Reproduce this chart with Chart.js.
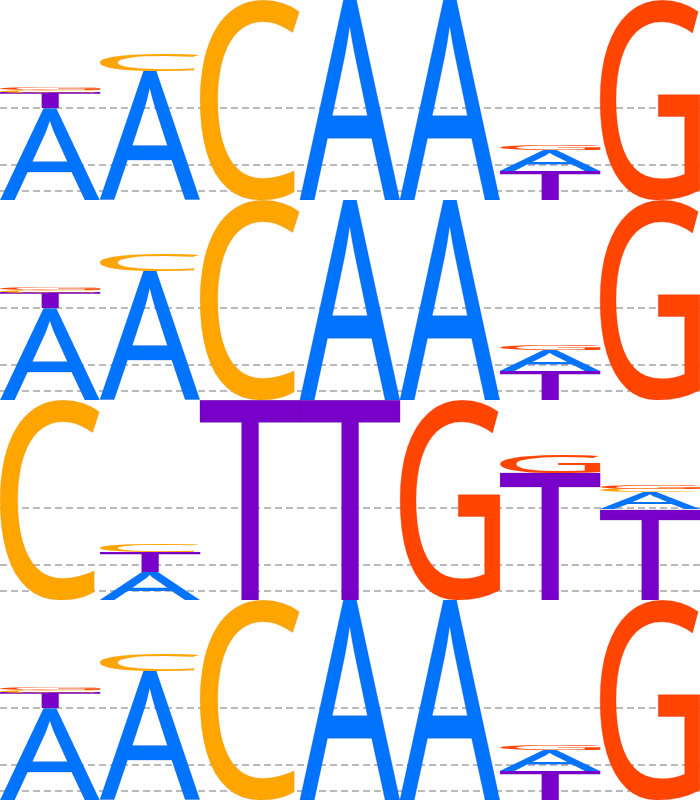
<!DOCTYPE html>
<html>
<head>
<meta charset="utf-8">
<script src="https://cdn.jsdelivr.net/npm/chart.js@4.4.1/dist/chart.umd.min.js"></script>
<style>
  html, body { margin: 0; padding: 0; background: #ffffff; }
  .row { width: 700px; height: 200px; position: relative; }
  canvas { display: block; }
</style>
</head>
<body>
<div class="row"><canvas id="c1" width="700" height="200"></canvas></div>
<div class="row"><canvas id="c2" width="700" height="200"></canvas></div>
<div class="row"><canvas id="c3" width="700" height="200"></canvas></div>
<div class="row"><canvas id="c4" width="700" height="200"></canvas></div>
<script>
// ---- data (information, bits) ----
const POSITIONS = ['1', '2', '3', '4', '5', '6', '7'];
const LETTERS = ['A', 'C', 'G', 'T'];
const LETTER_COLORS = ['#0074ff', '#ffa500', '#ff4500', '#7800c8'];
const LETTER_EDGES = ['#0050c0', '#e08a00', '#e02a00', '#55008f'];
const GRID_VALUES = [0.09, 0.353, 0.916];
const Y_MAX = 2;

const ROW1_A = [0.92, 1.283, 0, 2.0, 2.0, 0.21, 0];
const ROW1_C = [0.032, 0.18, 2.0, 0, 0, 0, 0];
const ROW1_G = [0.031, 0, 0, 0, 0, 0.055, 2.0];
const ROW1_T = [0.15, 0, 0, 0, 0, 0.29, 0];

const ROW2_A = [0.92, 1.283, 0, 2.0, 2.0, 0.21, 0];
const ROW2_C = [0.032, 0.18, 2.0, 0, 0, 0, 0];
const ROW2_G = [0.031, 0, 0, 0, 0, 0.055, 2.0];
const ROW2_T = [0.15, 0, 0, 0, 0, 0.29, 0];

const ROW3_A = [0, 0.283, 0, 0, 0, 0, 0.173];
const ROW3_C = [2.0, 0.083, 0, 0, 0, 0, 0.034];
const ROW3_G = [0, 0, 0, 0, 2.0, 0.193, 0.033];
const ROW3_T = [0, 0.20, 2.0, 2.0, 0, 1.27, 0.907];

const ROW4_A = [0.92, 1.283, 0, 2.0, 2.0, 0.21, 0];
const ROW4_C = [0.032, 0.18, 2.0, 0, 0, 0, 0];
const ROW4_G = [0.031, 0, 0, 0, 0, 0.055, 2.0];
const ROW4_T = [0.15, 0, 0, 0, 0, 0.29, 0];

const ROWS = [
  [ROW1_A, ROW1_C, ROW1_G, ROW1_T],
  [ROW2_A, ROW2_C, ROW2_G, ROW2_T],
  [ROW3_A, ROW3_C, ROW3_G, ROW3_T],
  [ROW4_A, ROW4_C, ROW4_G, ROW4_T]
];

// ---- glyph drawing ----
const FONT_PX = 200;
const FONT = FONT_PX + 'px "Noto Sans"';
function drawGlyph(ctx, ch, color, edge, x0, x1, yTop, yBot) {
  const w = x1 - x0, h = yBot - yTop;
  if (w <= 0 || h <= 0.2) return;
  ctx.save();
  ctx.font = FONT;
  ctx.textAlign = 'left';
  ctx.textBaseline = 'alphabetic';
  const m = ctx.measureText(ch);
  const L = m.actualBoundingBoxLeft, R = m.actualBoundingBoxRight;
  const A = m.actualBoundingBoxAscent, D = m.actualBoundingBoxDescent;
  const sx = w / (L + R), sy = h / (A + D);
  ctx.translate(x0, yTop);
  ctx.scale(sx, sy);
  ctx.fillStyle = color;
  ctx.fillText(ch, L, A);
  ctx.lineWidth = 0.5 / sx;
  ctx.strokeStyle = edge;
  ctx.globalAlpha = 0.5;
  ctx.strokeText(ch, L, A);
  ctx.restore();
}

const logoPlugin = {
  id: 'logoLetters',
  afterDatasetsDraw(chart) {
    const ctx = chart.ctx;
    const xs = chart.scales.x, ys = chart.scales.y;
    const ds = chart.data.datasets;
    const n = chart.data.labels.length;
    const half = (xs.getPixelForValue(1) - xs.getPixelForValue(0)) / 2;
    for (let i = 0; i < n; i++) {
      const items = ds.map((d, k) => ({ k, v: d.data[i] || 0 }))
        .filter(o => o.v > 0)
        .sort((a, b) => b.v - a.v);
      let base = 0;
      const cx = xs.getPixelForValue(i);
      for (const it of items) {
        const yBot = ys.getPixelForValue(base);
        const yTop = ys.getPixelForValue(base + it.v);
        drawGlyph(ctx, LETTERS[it.k], LETTER_COLORS[it.k], LETTER_EDGES[it.k],
          cx - half, cx + half, yTop, yBot);
        base += it.v;
      }
    }
  }
};

ROWS.forEach((row, r) => {
  new Chart(document.getElementById('c' + (r + 1)), {
    type: 'bar',
    data: {
      labels: POSITIONS,
      datasets: LETTERS.map((L, k) => ({
        label: L,
        data: row[k],
        backgroundColor: 'rgba(0,0,0,0)',
        borderWidth: 0,
        stack: 's'
      }))
    },
    options: {
      responsive: false,
      animation: false,
      devicePixelRatio: 1,
      layout: { padding: 0 },
      plugins: { legend: { display: false }, tooltip: { enabled: false } },
      scales: {
        x: {
          display: false,
          stacked: true,
          offset: true
        },
        y: {
          display: true,
          stacked: false,
          min: 0,
          max: Y_MAX,
          afterBuildTicks: (s) => { s.ticks = GRID_VALUES.map(v => ({ value: v })); },
          afterFit: (s) => { s.width = 0; },
          ticks: { display: false, padding: 0 },
          border: { display: false, dash: [7, 4] },
          grid: { color: '#bababa', lineWidth: 2, drawTicks: false }
        }
      }
    },
    plugins: [logoPlugin]
  });
});
</script>
</body>
</html>
